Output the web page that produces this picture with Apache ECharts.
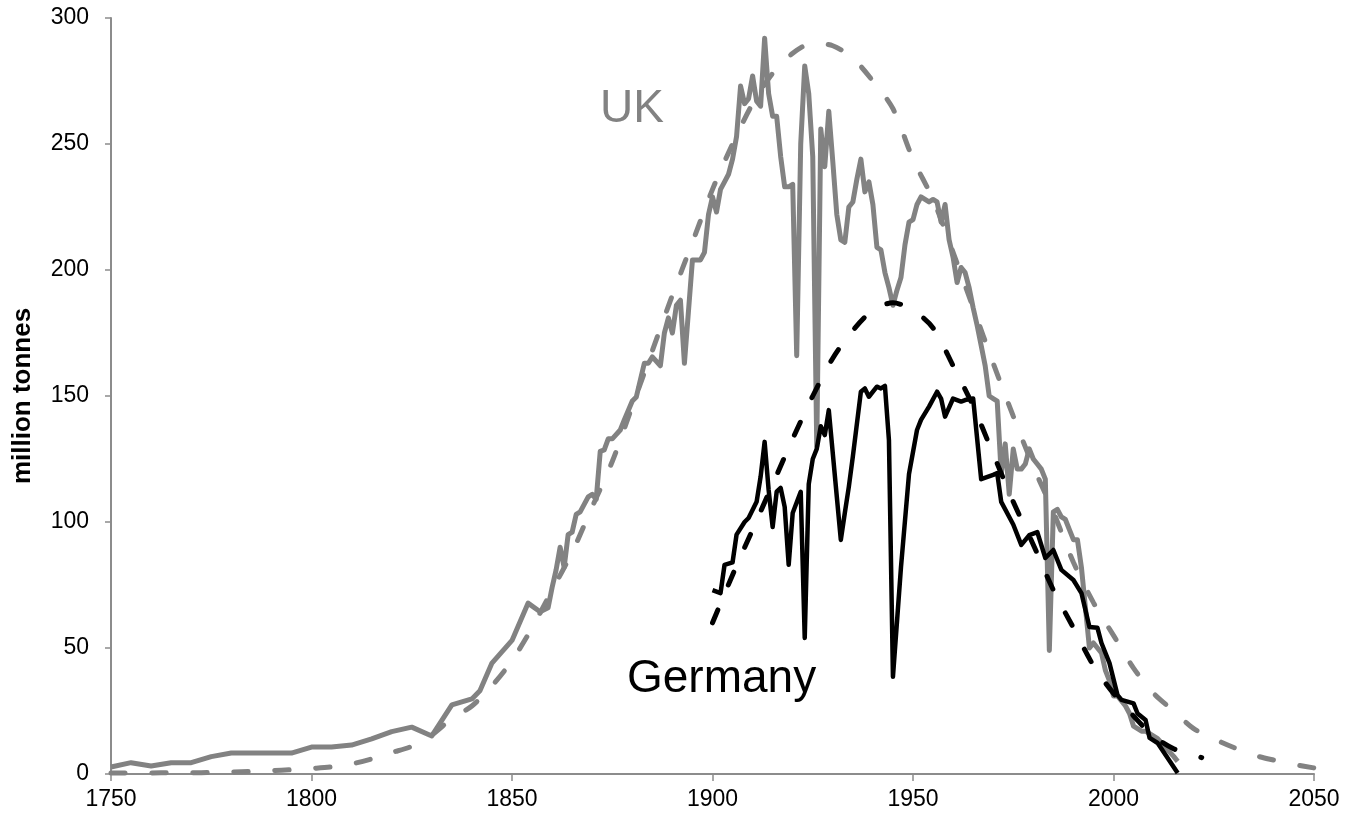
<!DOCTYPE html>
<html>
<head>
<meta charset="utf-8">
<script src="https://cdn.jsdelivr.net/npm/echarts@6/dist/echarts.min.js"></script>
<style>
html,body{margin:0;padding:0;background:#fff;}
#chart{width:1347px;height:822px;}
</style>
</head>
<body>
<div id="chart"></div>
<script>
// UK coal production (million tonnes) - actual
const ukYears = [1750,1755,1760,1765,1770,1775,1780,1795,1800,1805,1810,1815,1820,1825,1830,1835,1840,1842,1845,1850,1854,1857,1859,1860,1861,1862,1863,1864,1865,1866,1867,1869,1870,1871,1872,1873,1874,1875,1877,1878,1880,1881,1883,1884,1885,1887,1888,1889,1890,1891,1892,1893,1895,1897,1898,1899,1900,1901,1902,1903,1904,1905,1906,1907,1908,1909,1910,1911,1912,1913,1914,1915,1916,1917,1918,1919,1920,1921,1922,1923,1924,1925,1926,1927,1928,1929,1930,1931,1932,1933,1934,1935,1936,1937,1938,1939,1940,1941,1942,1943,1944,1945,1946,1947,1948,1949,1950,1951,1952,1953,1954,1955,1956,1957,1958,1959,1960,1961,1962,1963,1964,1965,1966,1967,1968,1969,1970,1971,1972,1973,1974,1975,1976,1977,1978,1979,1980,1981,1982,1983,1984,1985,1986,1987,1988,1989,1990,1991,1992,1993,1994,1995,1996,1997,1998,1999,2000,2001,2002,2003,2004,2005,2006,2007,2008,2009,2011,2013,2015,2016];
const ukValues = [2.8,4.5,3.2,4.5,4.5,6.9,8.3,8.3,10.7,10.7,11.5,13.9,16.8,18.6,15.1,27.4,29.8,33,44,53,67.8,64.4,66,74,81,90,82,95,96,103,104,110,111,109,128,128.6,133,133,136.5,140.5,148,149.6,163,163,165.5,162,175,181,175,186,188,163,204,204,207,222,229,223,232,235,238,244,253,273,266,268,277,267,265,292,270,261,261,245,233,233,234,166,250,281,270,245,130,256,241,263,243,222,212,211,225,227,236,244,231,235,226,209,208,199,193,186,192,197,210,219,220,226,229,228,227,228,227,219,226,212,205,195,201,199,193,185,178,170,162,150,149,148,119,131,111,129,121,121,123,129,125,123,121,117,49,104,105,102,101,97,93,93,82,66,50,52,50,48,41,37,31,31,29,27,24,19,18,17,17,16,14,10.5,7,5];

// UK fitted curve
const ukFitYears = [1750,1755,1760,1765,1770,1775,1780,1785,1790,1795,1800,1805,1810,1815,1820,1825,1830,1835,1840,1845,1850,1855,1860,1865,1870,1875,1880,1885,1890,1895,1900,1905,1910,1915,1920,1925,1930,1935,1940,1945,1950,1955,1960,1965,1970,1975,1980,1985,1990,1995,2000,2005,2010,2015,2020,2025,2030,2035,2040,2045,2050];
const ukFitValues = [0.4,0.4,0.4,0.5,0.5,0.6,0.8,1.0,1.3,1.7,2.2,2.8,4,6,8.5,11,15.5,22,27,35,45,58,73,88,106,124,146,168,190,211,232,250,266,278,286,290,289,284,275,264,244,228,207,185,163,142,122,104,84,68,55,42,32,25,18,14,10.5,7.5,5.5,3.8,2.4];

// Germany coal production (million tonnes) - actual
const deYears = [1900,1902,1903,1905,1906,1908,1909,1911,1912,1913,1914,1915,1916,1917,1918,1919,1920,1922,1923,1924,1925,1926,1927,1928,1929,1931,1932,1933,1934,1935,1937,1938,1939,1941,1942,1943,1944,1945,1947,1949,1951,1952,1954,1956,1957,1958,1960,1962,1963,1965,1967,1970,1971,1972,1975,1977,1979,1981,1983,1985,1987,1990,1992,1994,1996,1997,1999,2001,2002,2005,2006,2008,2009,2011,2016];
const deValues = [73,71.8,83,84,95,100,101.6,108,118,131.8,112.7,98,112,113.5,106,83,103.6,112,54,115,125,129,138,134.5,144.4,110,92.9,103.6,114,126,151.7,153,149.7,153.7,153,154,132.5,38.6,82,119,136.5,140.5,145.8,151.7,149,141.8,149,147.8,148.4,149,117,118.7,119.4,108,99,90.9,94.8,96,85.7,88.9,81,77,71.8,58.3,58,52,44,31.3,29.4,28,24,21.4,14.3,12.3,0.4];

// Germany fitted curve
const deFitYears = [1900,1905,1910,1915,1920,1925,1930,1935,1940,1945,1950,1955,1960,1965,1970,1975,1980,1985,1990,1995,2000,2005,2010,2015,2020,2022];
const deFitValues = [60,79,97,115,133,150,165,176,184,187,184,177,162,146,127,108,91,73,58,43,32,23,15,10,7.5,6.5];

// Axis
const xMin = 1750, xMax = 2050, xStep = 50;
const yMin = 0, yMax = 300, yStep = 50;
const yAxisTitle = 'million tonnes';
const labelUK = 'UK';
const labelDE = 'Germany';

function zip(xs, ys){ return xs.map((x,i)=>[x, ys[i]]); }

const GREY = '#828282';
const AXIS = '#8c8c8c';
const FONT = '"Liberation Sans", Arial, sans-serif';

const chart = echarts.init(document.getElementById('chart'), null, {renderer:'canvas'});
chart.setOption({
  animation: false,
  backgroundColor: '#ffffff',
  grid: {left: 111, right: 33, top: 18, bottom: 48, containLabel: false, outerBoundsMode: 'none'},
  xAxis: {
    type: 'value', min: xMin, max: xMax, interval: xStep,
    axisLine: {show: true, onZero: false, lineStyle: {color: AXIS, width: 2}},
    axisTick: {show: true, inside: false, length: 7, lineStyle: {color: AXIS, width: 1.5}},
    axisLabel: {color: '#000', fontSize: 23, fontFamily: FONT, margin: 14, formatter: v => String(v)},
    splitLine: {show: false}
  },
  yAxis: {
    type: 'value', min: yMin, max: yMax, interval: yStep,
    name: yAxisTitle, nameLocation: 'middle', nameGap: 75, nameRotate: 90,
    nameTextStyle: {color: '#000', fontSize: 26, fontWeight: 'bold', fontFamily: FONT},
    axisLine: {show: true, lineStyle: {color: AXIS, width: 2}},
    axisTick: {show: true, inside: false, length: 6, lineStyle: {color: AXIS, width: 1.5}},
    axisLabel: {color: '#000', fontSize: 23, fontFamily: FONT, margin: 22, formatter: v => String(v)},
    splitLine: {show: false}
  },
  series: [
    {
      type: 'line', data: zip(ukFitYears, ukFitValues), showSymbol: false, smooth: 0.3,
      lineStyle: {color: GREY, width: 5, type: [14, 27], cap: 'round'}, z: 1
    },
    {
      type: 'line', data: zip(ukYears, ukValues), showSymbol: false,
      lineStyle: {color: GREY, width: 5, join: 'round'}, z: 2
    },
    {
      type: 'line', data: zip(deFitYears, deFitValues), showSymbol: false, smooth: 0.3,
      lineStyle: {color: '#000', width: 5, type: [14, 27], cap: 'round'}, z: 3
    },
    {
      type: 'line', data: zip(deYears, deValues), showSymbol: false,
      lineStyle: {color: '#000', width: 4.5, join: 'round'}, z: 4
    }
  ],
  graphic: [
    {type: 'text', x: 600, y: 109, style: {text: labelUK, fill: GREY, font: '46px ' + FONT, textAlign: 'left', textVerticalAlign: 'middle'}},
    {type: 'text', x: 627, y: 679, style: {text: labelDE, fill: '#000', font: '46px ' + FONT, textAlign: 'left', textVerticalAlign: 'middle'}}
  ]
});
</script>
</body>
</html>
